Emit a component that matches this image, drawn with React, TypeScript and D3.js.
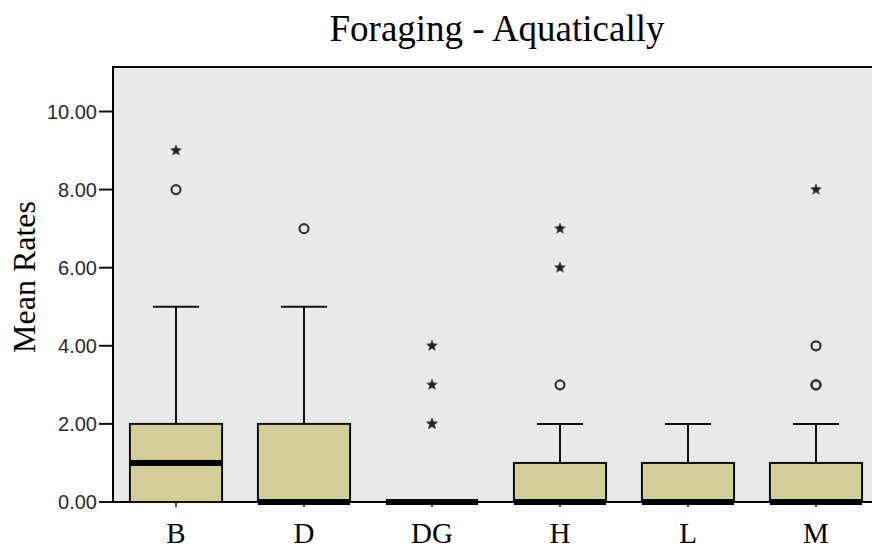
import React from "react";
import * as d3 from "d3";

const categories = ["B", "D", "DG", "H", "L", "M"];
const q1 = [0, 0, 0, 0, 0, 0];
const medians = [1, 0, 0, 0, 0, 0];
const q3 = [2, 2, 0, 1, 1, 1];
const whiskerLow = [0, 0, 0, 0, 0, 0];
const whiskerHigh = [5, 5, 0, 2, 2, 2];
const circleOutliers = [[8], [7], [], [3], [], [3, 3, 4]];
const starOutliers = [[9], [], [2, 2, 3, 4], [6, 7], [], [8]];
const yTicks = [0, 2, 4, 6, 8, 10];
const title = "Foraging - Aquatically";
const yLabel = "Mean Rates";

const W = 872;
const H = 548;

function starPath(cx: number, cy: number, ro: number, ri: number) {
  const pts: string[] = [];
  for (let i = 0; i < 10; i++) {
    const r = i % 2 === 0 ? ro : ri;
    const a = -Math.PI / 2 + (i * Math.PI) / 5;
    pts.push(`${cx + r * Math.cos(a)},${cy + r * Math.sin(a)}`);
  }
  return "M" + pts.join("L") + "Z";
}

export default function App() {
  const left = 112;
  const right = 880;
  const top = 67;
  const bottom = 502;
  const x = d3
    .scaleBand<string>()
    .domain(categories)
    .range([left, right])
    .paddingInner(0.28)
    .paddingOuter(0.14);
  const y = d3.scaleLinear().domain([0, 10]).range([bottom, 111.5]);
  const bw = x.bandwidth();
  const capW = bw * 0.5;

  return (
    <svg
      width={W}
      height={H}
      style={{ position: "absolute", left: 0, top: 0, background: "#fff" }}
    >
      <rect x={0} y={0} width={W} height={H} fill="#fff" />
      <rect
        x={left + 1}
        y={top}
        width={right - left}
        height={bottom - top}
        fill="#e9e9e9"
        stroke="#000"
        strokeWidth={2}
      />
      {yTicks.map((t) => (
        <g key={t}>
          <line x1={99} x2={113} y1={y(t)} y2={y(t)} stroke="#111" strokeWidth={2} />
          <text
            x={97}
            y={y(t)}
            textAnchor="end"
            dominantBaseline="central"
            fontFamily="'Liberation Sans Narrow', 'Arial Narrow', sans-serif"
            fontSize={20}
            fill="#2a2a2a"
          >
            {t.toFixed(2)}
          </text>
        </g>
      ))}
      {categories.map((c, i) => {
        const x0 = x(c)!;
        const cx = x0 + bw / 2;
        return (
          <g key={c}>
            <line x1={cx} x2={cx} y1={bottom} y2={bottom + 5} stroke="#111" strokeWidth={1.5} />
            {whiskerHigh[i] > q3[i] && (
              <>
                <line x1={cx} x2={cx} y1={y(q3[i])} y2={y(whiskerHigh[i])} stroke="#111" strokeWidth={2} />
                <line
                  x1={cx - capW / 2}
                  x2={cx + capW / 2}
                  y1={y(whiskerHigh[i])}
                  y2={y(whiskerHigh[i])}
                  stroke="#111"
                  strokeWidth={2}
                />
              </>
            )}
            {whiskerLow[i] < q1[i] && (
              <line x1={cx} x2={cx} y1={y(q1[i])} y2={y(whiskerLow[i])} stroke="#111" strokeWidth={2} />
            )}
            {q3[i] > q1[i] && (
              <rect
                x={x0}
                y={y(q3[i])}
                width={bw}
                height={y(q1[i]) - y(q3[i])}
                fill="#d3ce97"
                stroke="#111"
                strokeWidth={2}
              />
            )}
            <rect x={x0} y={y(medians[i]) - 3} width={bw} height={6} fill="#000" />
            {circleOutliers[i].map((v, k) => (
              <circle
                key={"c" + k}
                cx={cx}
                cy={y(v)}
                r={4.5}
                fill="none"
                stroke="#333"
                strokeWidth={2.2}
              />
            ))}
            {starOutliers[i].map((v, k) => (
              <path
                key={"s" + k}
                d={starPath(cx, y(v), 5.5, 2.4)}
                fill="#222"
                stroke="#444"
                strokeWidth={0.8}
              />
            ))}
          </g>
        );
      })}
      {categories.map((c) => (
        <text
          key={c}
          x={x(c)! + bw / 2}
          y={543}
          textAnchor="middle"
          fontFamily="'Liberation Serif', 'Times New Roman', serif"
          fontSize={29}
          fill="#000"
        >
          {c}
        </text>
      ))}
      <text
        x={497}
        y={41}
        textAnchor="middle"
        fontFamily="'Liberation Serif', 'Times New Roman', serif"
        fontSize={37}
        fill="#000"
      >
        {title}
      </text>
      <text
        transform={`translate(35, 277) rotate(-90)`}
        textAnchor="middle"
        fontFamily="'Liberation Serif', 'Times New Roman', serif"
        fontSize={32}
        fill="#000"
      >
        {yLabel}
      </text>
    </svg>
  );
}
